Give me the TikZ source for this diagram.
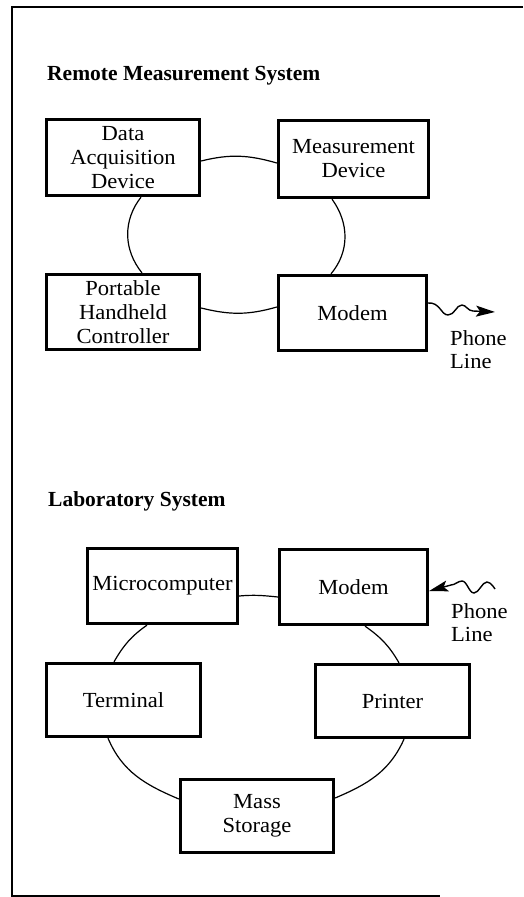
\documentclass[tikz,border=0pt]{standalone}
\usepackage{fontspec}
\setmainfont{Liberation Serif}
\newfontfamily\boxfont[FakeStretch=1.05]{Liberation Serif}
\usetikzlibrary{arrows.meta,calc}
\begin{document}
\begin{tikzpicture}[x=1pt,y=1pt,
  box/.style={draw,line width=2.8pt,inner sep=0pt,align=center,font=\boxfont\fontsize{21.5}{24}\selectfont},
  link/.style={line width=1.2pt},
  frame/.style={line width=1.8pt},
  title/.style={font=\bfseries\fontsize{21.5}{24}\selectfont,anchor=base west,inner sep=0pt},
  lbl/.style={font=\boxfont\fontsize{21.5}{23}\selectfont,align=left,anchor=north west,inner sep=0pt},
  wave/.style={line width=1.4pt},
  tip/.style={-{Stealth[length=19pt,width=11pt,inset=4pt]}},
]
\useasboundingbox (0,0) rectangle (523,-897);

% frame
\draw[frame] (523,-7) -- (12,-7) -- (12,-896) -- (440,-896);

% titles
\node[title] (t1) at (47,-80) {Remote Measurement System};
\node[title] (t2) at (48,-506) {Laboratory System};

% remote system boxes
\node[box,minimum width=153.5pt,minimum height=76.5pt] (daq) at (123,-157.5) {Data\\Acquisition\\Device};
\node[box,minimum width=150.5pt,minimum height=77.5pt] (md) at (353.5,-159) {Measurement\\Device};
\node[box,minimum width=153.5pt,minimum height=75.5pt] (phc) at (123,-312) {Portable\\Handheld\\Controller};
\node[box,minimum width=148.5pt,minimum height=75.5pt] (modemA) at (352.5,-313) {Modem};

% remote ring
\draw[link] ([yshift=-3.5pt]daq.east) to[out=14,in=164] ([yshift=-4pt]md.west);
\draw[link] ([xshift=18pt]daq.south) to[out=232,in=129] ([xshift=19pt]phc.north);
\draw[link] ([xshift=-21.5pt]md.south) to[out=-54,in=50] ([xshift=-21.5pt]modemA.north);
\draw[link] ([yshift=4pt]phc.east) to[out=-14,in=196] ([yshift=6pt]modemA.west);

% phone line out
\coordinate (ptA) at (495,-312);
\draw[wave,tip] ([yshift=10pt]modemA.east) .. controls (440,-302) and (441,-315) .. (448,-315)
  .. controls (455,-315) and (456,-305) .. (462,-305)
  .. controls (466,-305) and (468,-311) .. (473,-311) -- (ptA);
\node[lbl] (plA) at (450,-330) {Phone\\Line};

% laboratory system boxes
\node[box,minimum width=150.5pt,minimum height=75.5pt] (micro) at (162.5,-586) {Microcomputer};
\node[box,minimum width=148.5pt,minimum height=75.5pt] (modemB) at (353.5,-587) {Modem};
\node[box,minimum width=154.5pt,minimum height=73.5pt] (term) at (123.5,-700) {Terminal};
\node[box,minimum width=154.5pt,minimum height=73.5pt] (printer) at (392.5,-701) {Printer};
\node[box,minimum width=153.5pt,minimum height=73.5pt] (mass) at (257,-816) {Mass\\Storage};

% laboratory ring
\draw[link] ([yshift=-10pt]micro.east) to[out=5,in=174] ([yshift=-10pt]modemB.west);
\draw[link] ([xshift=-15.5pt]micro.south) to[out=215,in=60] ([xshift=-9.5pt]term.north);
\draw[link] ([xshift=11.5pt]modemB.south) to[out=-35,in=120] ([xshift=6.5pt]printer.north);
\draw[link] ([xshift=-15.5pt]term.south) to[out=-67,in=157] ([yshift=17pt]mass.west);
\draw[link] ([xshift=11.5pt]printer.south) to[out=246,in=23] ([yshift=18pt]mass.east);

% phone line in
\coordinate (ptB) at (495,-589);
\draw[wave,tip] (ptB) .. controls (491,-583) and (489,-582) .. (487,-582)
  .. controls (482,-582) and (479,-593) .. (474,-593)
  .. controls (469,-593) and (467,-581) .. (462,-581)
  .. controls (458,-581) and (455,-585) .. (451,-585) -- ([yshift=-4pt]modemB.east);
\node[lbl] (plB) at (451,-603) {Phone\\Line};
\end{tikzpicture}
\end{document}
